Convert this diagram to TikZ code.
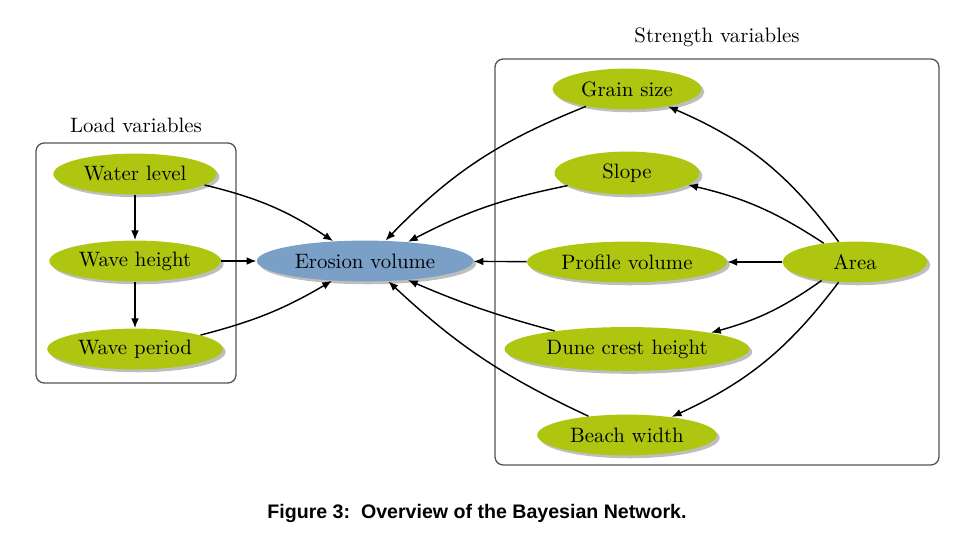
\documentclass[tikz,border=0pt]{standalone}
\usepackage{fontspec}
\newfontfamily\capfont{Liberation Sans}
\usetikzlibrary{shapes.geometric,shadows,arrows.meta}
\definecolor{ngreen}{RGB}{174,198,16}
\definecolor{nblue}{RGB}{122,160,200}
\definecolor{shgray}{RGB}{190,190,190}
\definecolor{boxgray}{RGB}{85,85,85}
\begin{document}
\begin{tikzpicture}[x=0.49pt,y=0.49pt,
  nd/.style={ellipse,inner sep=0pt,minimum height=20pt,font=\fontsize{10.2}{12}\selectfont,
    drop shadow={shadow xshift=1.4pt,shadow yshift=-1.4pt,fill=shgray,opacity=1}},
  gn/.style={nd,fill=ngreen},
  bn/.style={nd,fill=nblue},
  grp/.style={draw=boxgray,line width=0.65pt,rounded corners=4pt},
  ttl/.style={font=\fontsize{10.2}{12}\selectfont},
  edge/.style={line width=0.7pt,-{Latex[length=4.8pt,width=3.8pt]}}]
\useasboundingbox (0,0) rectangle (977,-541);
% group boxes
\draw[grp] (36,-143) rectangle (236,-383);
\draw[grp] (495,-59) rectangle (939,-465);
\node[ttl] (lt) at (136,-125) {Load variables};
\node[ttl] (st) at (717,-37) {Strength variables};
% nodes
\node[gn,minimum width=80pt] (wl) at (135,-174) {Water level};
\node[gn,minimum width=84pt] (wh) at (135,-261) {Wave height};
\node[gn,minimum width=86pt] (wp) at (135,-349) {Wave period};
\node[bn,minimum width=106pt] (ev) at (365,-261) {Erosion volume};
\node[gn,minimum width=73pt] (gs) at (627,-89) {Grain size};
\node[gn,minimum width=71pt,minimum height=21pt] (sl) at (627,-173) {Slope};
\node[gn,minimum width=98pt] (pv) at (627,-262) {Profile volume};
\node[gn,minimum width=71pt] (ar) at (855,-262) {Area};
\node[gn,minimum width=120pt,minimum height=21.5pt] (dc) at (627,-349) {Dune crest height};
\node[gn,minimum width=88pt] (bw) at (627,-435) {Beach width};
% edges
\draw[edge] (wl) -- (wh);
\draw[edge] (wh) -- (wp);
\draw[edge] (wh) -- (ev);
\draw[edge] (wl.-9) to[bend left=10] (ev.148);
\draw[edge] (wp.12) to[bend right=8] (ev.211);
\draw[edge] (gs.203) to[bend right=12] (ev.45);
\draw[edge] (sl.192) to[bend right=8] (ev.24);
\draw[edge] (pv) -- (ev);
\draw[edge] (dc.166) to[bend left=4] (ev.-24);
\draw[edge] (bw.154) to[bend left=9] (ev.-41);
\draw[edge] (ar.129) to[bend right=15] (gs.-23);
\draw[edge] (ar.149) to[bend right=10] (sl.-11);
\draw[edge] (ar) -- (pv);
\draw[edge] (ar.209) to[bend left=10] (dc.11);
\draw[edge] (ar.231) to[bend left=14] (bw.22);
% caption
\node[font=\capfont\bfseries\fontsize{9.6}{12}\selectfont] (cap) at (477,-513) {Figure 3:\ \ Overview of the Bayesian Network.};
\end{tikzpicture}
\end{document}
